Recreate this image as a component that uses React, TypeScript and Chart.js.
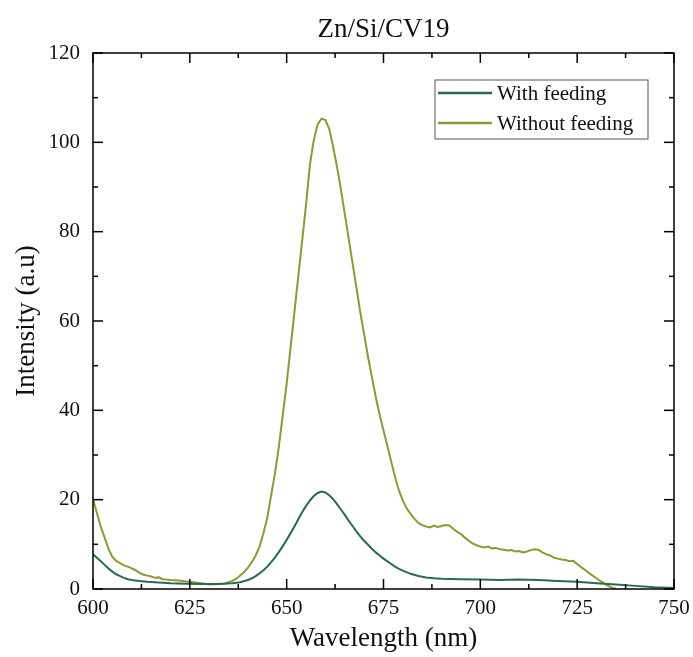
import React, { useEffect, useRef } from "react";
import { Chart, registerables } from "chart.js";

Chart.register(...registerables);

const chartTitle = "Zn/Si/CV19";
const xAxisTitle = "Wavelength (nm)";
const yAxisTitle = "Intensity (a.u)";
const seriesLabels = ["With feeding", "Without feeding"];
const seriesColors = ["#2a6a4e", "#8b9a33"];

const xTickValues = [600, 625, 650, 675, 700, 725, 750];
const yTickValues = [0, 20, 40, 60, 80, 100, 120];

const withWavelength = [
  600, 601, 602, 603, 604, 605, 606, 607, 608, 609, 610, 612, 614, 616, 618, 620, 624, 628, 632, 636,
  638, 640, 641, 642, 643, 644, 645, 646, 647, 648, 649, 650, 651, 652, 653, 654, 655, 656, 657, 658,
  659, 660, 661, 662, 663, 664, 665, 666, 667, 668, 669, 670, 671, 672, 673, 674, 675, 676, 677, 678,
  679, 680, 682, 684, 686, 688, 690, 695, 700, 705, 710, 715, 720, 725, 730, 735, 740, 745, 750,
];
const withIntensity = [
  7.8, 7.0, 6.2, 5.4, 4.6, 3.9, 3.3, 2.9, 2.5, 2.2, 2.0, 1.8, 1.6, 1.5, 1.4, 1.3, 1.2, 1.1, 1.1, 1.3,
  1.5, 2.0, 2.4, 2.9, 3.5, 4.2, 5.0, 6.0, 7.1, 8.3, 9.6, 11.0, 12.5, 14.0, 15.6, 17.2, 18.6, 19.8, 20.8, 21.5,
  21.8, 21.6, 21.0, 20.1, 19.0, 17.8, 16.6, 15.3, 14.1, 12.9, 11.8, 10.8, 9.9, 9.0, 8.2, 7.5, 6.8, 6.2, 5.6, 5.0,
  4.5, 4.1, 3.4, 2.9, 2.6, 2.4, 2.3, 2.2, 2.1, 2.0, 2.1, 2.0, 1.8, 1.6, 1.3, 1.0, 0.7, 0.4, 0.2,
];

const withoutWavelength = [
  600, 601, 602, 603, 604, 605, 606, 607, 608, 609, 610, 611, 612, 613, 614, 615, 616, 617, 618, 619,
  620, 622, 624, 626, 628, 630, 632, 634, 635, 636, 637, 638, 639, 640, 641, 642, 643, 644, 645, 646,
  647, 648, 649, 650, 651, 652, 653, 654, 655, 656, 657, 658, 659, 660, 661, 662, 663, 664, 665, 666,
  667, 668, 669, 670, 671, 672, 673, 674, 675, 676, 677, 678, 679, 680, 681, 682, 683, 684, 685, 686,
  687, 688, 689, 690, 691, 692, 693, 694, 695, 696, 697, 698, 699, 700, 701, 702, 703, 704, 705, 706,
  707, 708, 709, 710, 711, 712, 713, 714, 715, 716, 717, 718, 719, 720, 721, 722, 723, 724, 725, 726,
  727, 728, 729, 730, 731, 732, 733, 734, 735,
];
const withoutIntensity = [
  20.2, 17, 14, 11.5, 9, 7.2, 6.3, 5.8, 5.3, 5.0, 4.6, 4.2, 3.6, 3.2, 3.0, 2.8, 2.5, 2.6, 2.2, 2.1,
  2.0, 1.9, 1.7, 1.5, 1.3, 1.0, 1.1, 1.2, 1.5, 1.8, 2.3, 3.0, 3.8, 4.8, 6.0, 7.5, 9.5, 12.5, 16, 21,
  26, 32, 39, 46, 54, 62, 70, 78, 86, 95, 100.5, 104, 105.3, 105, 103, 99, 94.5, 89.5, 84, 78.5,
  73, 67.5, 62, 57, 52, 47.5, 43, 39, 35.5, 32, 28.5, 25, 22, 19.8, 18, 16.8, 15.7, 14.8, 14.3, 14.0,
  13.8, 14.2, 13.9, 14.1, 14.3, 14.2, 13.5, 12.8, 12.3, 11.5, 10.8, 10.2, 9.8, 9.5, 9.3, 9.5, 9.1, 9.2, 8.9, 8.8,
  8.6, 8.7, 8.4, 8.5, 8.2, 8.4, 8.7, 8.9, 8.8, 8.2, 7.8, 7.5, 7.0, 6.8, 6.6, 6.5, 6.2, 6.3, 5.6, 4.9,
  4.3, 3.6, 3.0, 2.4, 1.8, 1.2, 0.7, 0.3, 0.0,
];

const FONT = "'Liberation Serif', 'Times New Roman', serif";

function midpoints(arr: number[]): number[] {
  const out: number[] = [];
  for (let i = 0; i < arr.length - 1; i++) out.push((arr[i] + arr[i + 1]) / 2);
  return out;
}

const framePlugin = {
  id: "frameTicksLegend",
  afterDatasetsDraw(chart: any) {
    const { ctx, chartArea } = chart;
    const { left, right, top, bottom } = chartArea;
    const xs = chart.scales.x;
    const ys = chart.scales.y;
    ctx.save();
    ctx.strokeStyle = "#000";
    ctx.lineWidth = 1.5;
    const seg = (x1: number, y1: number, x2: number, y2: number) => {
      ctx.beginPath();
      ctx.moveTo(x1, y1);
      ctx.lineTo(x2, y2);
      ctx.stroke();
    };
    const majorLen = 10;
    const minorLen = 5;
    xTickValues.forEach((v) => {
      const p = xs.getPixelForValue(v);
      seg(p, bottom, p, bottom - majorLen);
      seg(p, top, p, top + majorLen);
    });
    midpoints(xTickValues).forEach((v) => {
      const p = xs.getPixelForValue(v);
      seg(p, bottom, p, bottom - minorLen);
      seg(p, top, p, top + minorLen);
    });
    yTickValues.forEach((v) => {
      const p = ys.getPixelForValue(v);
      seg(left, p, left + majorLen, p);
      seg(right, p, right - majorLen, p);
    });
    midpoints(yTickValues).forEach((v) => {
      const p = ys.getPixelForValue(v);
      seg(left, p, left + minorLen, p);
      seg(right, p, right - minorLen, p);
    });
    ctx.strokeRect(left, top, right - left, bottom - top);

    // legend
    const boxL = 435, boxT = 80, boxR = 648, boxB = 139;
    ctx.lineWidth = 1;
    ctx.strokeStyle = "#555";
    ctx.fillStyle = "#fff";
    ctx.fillRect(boxL, boxT, boxR - boxL, boxB - boxT);
    ctx.strokeRect(boxL, boxT, boxR - boxL, boxB - boxT);
    const rows = [93, 123];
    chart.data.datasets.forEach((ds: any, i: number) => {
      const y = rows[i];
      ctx.strokeStyle = ds.borderColor;
      ctx.lineWidth = 2.5;
      seg(438, y, 492, y);
      ctx.fillStyle = "#111";
      ctx.font = `21px ${FONT}`;
      ctx.textAlign = "left";
      ctx.textBaseline = "middle";
      ctx.fillText(ds.label, 497, y + 1);
    });
    ctx.restore();
  },
};

export default function App() {
  const canvasRef = useRef<HTMLCanvasElement | null>(null);

  useEffect(() => {
    if (!canvasRef.current) return;
    const chart = new Chart(canvasRef.current, {
      type: "line",
      data: {
        datasets: [
          {
            label: seriesLabels[0],
            data: withWavelength.map((x, i) => ({ x, y: withIntensity[i] })),
            borderColor: seriesColors[0],
            backgroundColor: seriesColors[0],
            borderWidth: 2,
            pointRadius: 0,
            tension: 0,
          },
          {
            label: seriesLabels[1],
            data: withoutWavelength.map((x, i) => ({ x, y: withoutIntensity[i] })),
            borderColor: seriesColors[1],
            backgroundColor: seriesColors[1],
            borderWidth: 2,
            pointRadius: 0,
            tension: 0,
          },
        ],
      },
      options: {
        responsive: false,
        animation: false,
        devicePixelRatio: 1,
        layout: { padding: { left: 0, right: 19, top: 0, bottom: 0 } },
        plugins: {
          legend: { display: false },
          tooltip: { enabled: false },
          title: {
            display: true,
            text: chartTitle,
            fullSize: false,
            color: "#111",
            font: { family: FONT, size: 27, weight: "normal" },
            padding: { top: 13.8, bottom: 6.8 },
          },
        },
        scales: {
          x: {
            type: "linear",
            min: 600,
            max: 750,
            afterFit: (s: any) => {
              s.height = 68;
              s.paddingLeft = 0;
              s.paddingRight = 0;
            },
            afterBuildTicks: (s: any) => {
              s.ticks = xTickValues.map((v) => ({ value: v }));
            },
            grid: { display: false, drawTicks: false },
            border: { display: false },
            ticks: {
              color: "#111",
              font: { family: FONT, size: 21 },
              padding: 7,
              maxRotation: 0,
            },
            title: {
              display: true,
              text: xAxisTitle,
              color: "#111",
              font: { family: FONT, size: 27 },
              padding: { top: 0, bottom: 2 },
            },
          },
          y: {
            type: "linear",
            min: 0,
            max: 120,
            afterFit: (s: any) => {
              s.width = 93;
              s.paddingTop = 0;
              s.paddingBottom = 0;
            },
            afterBuildTicks: (s: any) => {
              s.ticks = yTickValues.map((v) => ({ value: v }));
            },
            grid: { display: false, drawTicks: false },
            border: { display: false },
            ticks: {
              color: "#111",
              font: { family: FONT, size: 21 },
              padding: 13,
            },
            title: {
              display: true,
              text: yAxisTitle,
              color: "#111",
              font: { family: FONT, size: 27 },
              padding: { top: 10.8, bottom: 0 },
            },
          },
        },
      },
      plugins: [framePlugin],
    } as any);
    return () => chart.destroy();
  }, []);

  return (
    <div style={{ position: "fixed", left: 0, top: 0, width: 693, height: 657, background: "#fff" }}>
      <canvas ref={canvasRef} width={693} height={657} />
    </div>
  );
}
